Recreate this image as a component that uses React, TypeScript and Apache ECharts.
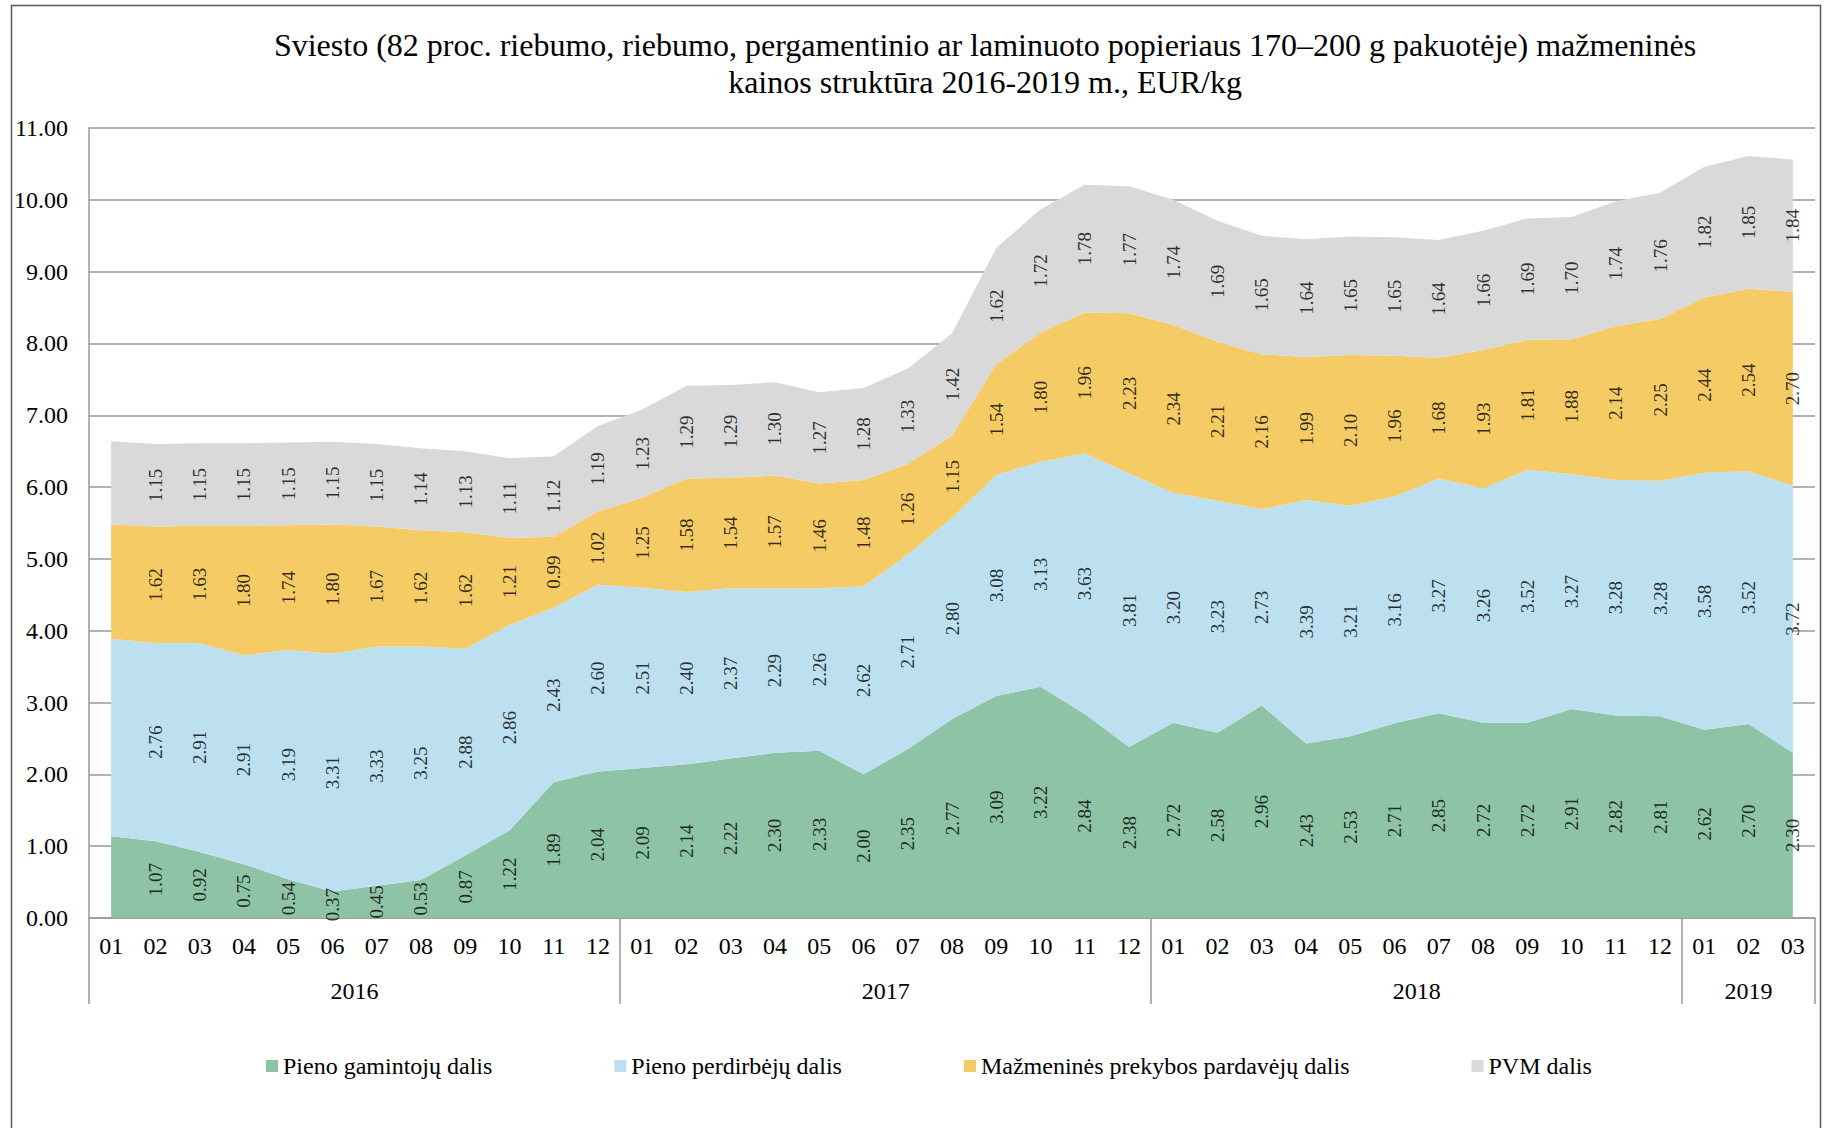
import React, { useEffect, useRef } from 'react';
import * as echarts from 'echarts';

const years = ['2016', '2017', '2018', '2019'];
const monthsPerYear = [12, 12, 12, 3];
const monthLabels = ['01', '02', '03', '04', '05', '06', '07', '08', '09', '10', '11', '12'];

const producers = [1.14, 1.07, 0.92, 0.75, 0.54, 0.37, 0.45, 0.53, 0.87, 1.22, 1.89, 2.04,
  2.09, 2.14, 2.22, 2.30, 2.33, 2.00, 2.35, 2.77, 3.09, 3.22, 2.84, 2.38,
  2.72, 2.58, 2.96, 2.43, 2.53, 2.71, 2.85, 2.72, 2.72, 2.91, 2.82, 2.81,
  2.62, 2.70, 2.30];
const processors = [2.75, 2.76, 2.91, 2.91, 3.19, 3.31, 3.33, 3.25, 2.88, 2.86, 2.43, 2.60,
  2.51, 2.40, 2.37, 2.29, 2.26, 2.62, 2.71, 2.80, 3.08, 3.13, 3.63, 3.81,
  3.20, 3.23, 2.73, 3.39, 3.21, 3.16, 3.27, 3.26, 3.52, 3.27, 3.28, 3.28,
  3.58, 3.52, 3.72];
const retailers = [1.59, 1.62, 1.63, 1.80, 1.74, 1.80, 1.67, 1.62, 1.62, 1.21, 0.99, 1.02,
  1.25, 1.58, 1.54, 1.57, 1.46, 1.48, 1.26, 1.15, 1.54, 1.80, 1.96, 2.23,
  2.34, 2.21, 2.16, 1.99, 2.10, 1.96, 1.68, 1.93, 1.81, 1.88, 2.14, 2.25,
  2.44, 2.54, 2.70];
const vat = [1.16, 1.15, 1.15, 1.15, 1.15, 1.15, 1.15, 1.14, 1.13, 1.11, 1.12, 1.19,
  1.23, 1.29, 1.29, 1.30, 1.27, 1.28, 1.33, 1.42, 1.62, 1.72, 1.78, 1.77,
  1.74, 1.69, 1.65, 1.64, 1.65, 1.65, 1.64, 1.66, 1.69, 1.70, 1.74, 1.76,
  1.82, 1.85, 1.84];

const seriesNames = ['Pieno gamintojų dalis', 'Pieno perdirbėjų dalis', 'Mažmeninės prekybos pardavėjų dalis', 'PVM dalis'];
const seriesColors = ['#8FC3A6', '#BDE0F0', '#F5CB66', '#D9D9D9'];
const unlabelledPoints = [0];

const titleText = 'Sviesto (82 proc. riebumo, riebumo, pergamentinio ar laminuoto popieriaus 170–200 g pakuotėje) mažmeninės\nkainos struktūra 2016-2019 m., EUR/kg';

const yMin = 0;
const yMax = 11;
const yStep = 1;

const FONT = 'Liberation Serif';
const W = 1829;
const H = 1128;
const GRID = { left: 89, right: 14, top: 128, bottom: 210 };

export default function App() {
  const ref = useRef<HTMLDivElement>(null);

  useEffect(() => {
    document.body.style.margin = '0';
    if (!ref.current) return;
    const chart = echarts.init(ref.current, null, { renderer: 'svg' });

    const categories: string[] = [];
    const yearStart: number[] = [];
    years.forEach((y, i) => {
      yearStart.push(categories.length);
      for (let m = 0; m < monthsPerYear[i]; m++) categories.push(monthLabels[m]);
    });
    const n = categories.length;
    const band = (W - GRID.left - GRID.right) / n;

    const yearAt: Record<number, { text: string; shift: boolean }> = {};
    years.forEach((y, i) => {
      const c = monthsPerYear[i];
      if (c % 2 === 1) yearAt[yearStart[i] + (c - 1) / 2] = { text: y, shift: false };
      else yearAt[yearStart[i] + c / 2 - 1] = { text: y, shift: true };
    });

    const values = [producers, processors, retailers, vat];

    const areaSeries = values.map((vals, si) => ({
      name: seriesNames[si],
      type: 'line',
      stack: 'total',
      data: vals,
      symbol: 'none',
      lineStyle: { width: 0 },
      itemStyle: { color: seriesColors[si] },
      areaStyle: { color: seriesColors[si], opacity: 1 },
      emphasis: { disabled: true },
    }));

    const labelSeries = values.map((vals, si) => ({
      name: 'lbl' + si,
      type: 'scatter',
      xAxisIndex: 0,
      symbolSize: 1,
      itemStyle: { color: 'rgba(0,0,0,0)' },
      silent: true,
      z: 5,
      data: vals
        .map((v, i) => {
          let below = 0;
          for (let k = 0; k < si; k++) below += values[k][i];
          return [i, below + v / 2, v];
        })
        .filter((d) => unlabelledPoints.indexOf(d[0] as number) < 0),
      label: {
        show: true,
        position: 'inside',
        rotate: 90,
        fontFamily: FONT,
        fontSize: 19,
        color: '#000',
        formatter: (p: any) => Number(p.data[2]).toFixed(2),
      },
    }));

    chart.setOption({
      animation: false,
      backgroundColor: '#fff',
      graphic: [
        {
          type: 'rect',
          shape: { x: 11.5, y: 5.5, width: 1809, height: 1200 },
          style: { fill: 'none', stroke: '#595959', lineWidth: 1.5 },
          silent: true,
          z: -1,
        },
        {
          type: 'text',
          x: 985,
          y: 26,
          silent: true,
          style: {
            text: titleText,
            textAlign: 'center',
            textVerticalAlign: 'top',
            fontFamily: FONT,
            fontSize: 32,
            lineHeight: 37,
            fill: '#000',
          },
        },
      ],
      legend: {
        data: seriesNames,
        left: 266,
        top: 1054,
        padding: 0,
        itemWidth: 12,
        itemHeight: 12,
        itemGap: 122,
        icon: 'rect',
        textStyle: { fontFamily: FONT, fontSize: 24, color: '#000' },
      },
      grid: { left: GRID.left, right: GRID.right, top: GRID.top, bottom: GRID.bottom, containLabel: false },
      xAxis: [
        {
          type: 'category',
          data: categories,
          boundaryGap: true,
          axisLine: { show: true, lineStyle: { color: '#999', width: 1.5 } },
          axisTick: {
            show: true,
            interval: (i: number) => yearStart.indexOf(i) >= 0,
            length: 86,
            lineStyle: { color: '#999', width: 1.5 },
          },
          axisLabel: { interval: 0, margin: 16, fontFamily: FONT, fontSize: 24, color: '#000' },
        },
        {
          type: 'category',
          data: categories,
          position: 'bottom',
          boundaryGap: true,
          axisLine: { show: false },
          axisTick: { show: false },
          axisLabel: {
            interval: 0,
            margin: 61,
            fontFamily: FONT,
            fontSize: 24,
            color: '#000',
            formatter: (_v: string, idx: number) => {
              const y = yearAt[idx];
              if (!y) return '';
              return y.shift ? '{s|' + y.text + '}' : '{n|' + y.text + '}';
            },
            rich: {
              s: { fontFamily: FONT, fontSize: 24, color: '#000', padding: [0, 0, 0, band] },
              n: { fontFamily: FONT, fontSize: 24, color: '#000' },
            },
          },
        },
      ],
      yAxis: {
        type: 'value',
        min: yMin,
        max: yMax,
        interval: yStep,
        axisLine: { show: true, lineStyle: { color: '#999', width: 1.5 } },
        axisTick: { show: false },
        splitLine: { show: true, lineStyle: { color: '#999', width: 1.5 } },
        axisLabel: {
          margin: 21,
          fontFamily: FONT,
          fontSize: 24,
          color: '#000',
          formatter: (v: number) => v.toFixed(2),
        },
      },
      series: [...areaSeries, ...labelSeries],
    });

    return () => chart.dispose();
  }, []);

  return <div ref={ref} style={{ width: W, height: H }} />;
}
